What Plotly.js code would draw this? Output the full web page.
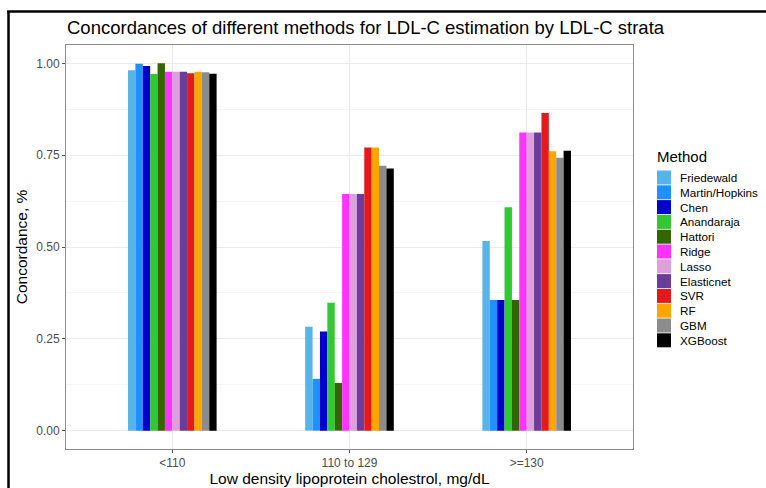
<!DOCTYPE html>
<html>
<head>
<meta charset="utf-8">
<script src="https://cdn.plot.ly/plotly-3.0.1.min.js"></script>
<style>html,body{margin:0;padding:0;background:#fff;}#chart{width:766px;height:488px;}</style>
</head>
<body>
<div id="chart"></div>
<script>
// ---- data ----
const strata = ['<110', '110 to 129', '>=130'];
const methods = ['Friedewald','Martin/Hopkins','Chen','Anandaraja','Hattori','Ridge','Lasso','Elasticnet','SVR','RF','GBM','XGBoost'];
const colors = ['#56B4E9','#1E90FF','#0000CD','#33C733','#336600','#FF33FF','#DDA0DD','#6A3D9A','#E31A1C','#FFA500','#8C8C8C','#000000'];
const friedewald   = [0.981, 0.283, 0.516];
const martin       = [0.999, 0.141, 0.356];
const chen         = [0.993, 0.270, 0.356];
const anandaraja   = [0.971, 0.348, 0.608];
const hattori      = [1.000, 0.130, 0.356];
const ridge        = [0.977, 0.644, 0.812];
const lasso        = [0.977, 0.644, 0.812];
const elasticnet   = [0.977, 0.644, 0.812];
const svr          = [0.973, 0.771, 0.865];
const rf           = [0.977, 0.771, 0.761];
const gbm          = [0.976, 0.721, 0.743];
const xgboost      = [0.972, 0.714, 0.762];
const series = [friedewald, martin, chen, anandaraja, hattori, ridge, lasso, elasticnet, svr, rf, gbm, xgboost];
const yTickVals = [0, 0.25, 0.5, 0.75, 1];
const yTickText = ['0.00', '0.25', '0.50', '0.75', '1.00'];

// ---- layout geometry ----
const W = 766, H = 488;
const M = {l: 66, r: 133, t: 45, b: 39};
const PW = W - M.l - M.r, PH = H - M.t - M.b;
const px = x => (x - M.l) / PW;
const py = y => (H - M.b - y) / PH;
const FONT = 'Liberation Sans, Arial, sans-serif';

const traces = methods.map((m, i) => ({
  type: 'bar', name: m, x: strata, y: series[i],
  marker: {color: colors[i], line: {width: 0}},
  showlegend: false, hoverinfo: 'x+y+name'
}));

const shapes = [];
const annotations = [];
// custom legend
annotations.push({xref:'paper', yref:'paper', x: px(655), y: py(156), xanchor:'left', yanchor:'middle',
  text:'Method', showarrow:false, font:{family:FONT, size:15, color:'#000'}});
methods.forEach((m, i) => {
  const cy = 177.5 + i * 14.8;
  shapes.push({type:'rect', xref:'paper', yref:'paper', x0: px(657), x1: px(671), y0: py(cy - 7), y1: py(cy + 7),
    fillcolor: colors[i], line:{width:0}, layer:'above'});
  annotations.push({xref:'paper', yref:'paper', x: px(678), y: py(cy), xanchor:'left', yanchor:'middle',
    text: m, showarrow:false, font:{family:FONT, size:11.7, color:'#000'}});
});
// outer frame (left and top edges of the image border)
shapes.push({type:'line', xref:'paper', yref:'paper', x0: px(8.5), x1: px(8.5), y0: py(12), y1: py(H + 5), line:{color:'#000', width:2.5}, layer:'above'});
shapes.push({type:'line', xref:'paper', yref:'paper', x0: px(7), x1: px(W + 5), y0: py(11.5), y1: py(11.5), line:{color:'#000', width:2.5}, layer:'above'});

const layout = {
  width: W, height: H,
  margin: M,
  paper_bgcolor: '#fff', plot_bgcolor: '#fff',
  font: {family: FONT, color: '#000'},
  title: {text: 'Concordances of different methods for LDL-C estimation by LDL-C strata',
    x: 67 / W, xanchor: 'left', xref: 'container', y: 1 - 28 / H, yanchor: 'middle', yref: 'container',
    font: {family: FONT, size: 18.5, color: '#000'}},
  barmode: 'group', bargap: 0.5, bargroupgap: 0,
  showlegend: false,
  xaxis: {type: 'category', range: [-0.6, 2.6], showgrid: true, gridcolor: '#EBEBEB', gridwidth: 1,
    showline: true, mirror: true, linecolor: '#8A8A8A', linewidth: 1,
    ticks: 'outside', ticklen: 3, tickcolor: '#555555', tickwidth: 1,
    tickfont: {family: FONT, size: 12, color: '#4D4D4D'},
    title: {text: 'Low density lipoprotein cholestrol, mg/dL', standoff: 3, font: {family: FONT, size: 15.5, color: '#000'}},
    zeroline: false, fixedrange: true},
  yaxis: {range: [-0.05, 1.05], tickmode: 'array', tickvals: yTickVals, ticktext: yTickText,
    showgrid: true, gridcolor: '#EBEBEB', gridwidth: 1,
    minor: {tickmode: 'linear', tick0: 0.125, dtick: 0.25, showgrid: true, gridcolor: '#F5F5F5', gridwidth: 1, ticks: ''},
    showline: true, mirror: true, linecolor: '#8A8A8A', linewidth: 1,
    ticks: 'outside', ticklen: 3, tickcolor: '#555555', tickwidth: 1,
    tickfont: {family: FONT, size: 12, color: '#4D4D4D'},
    title: {text: 'Concordance, %', standoff: 4, font: {family: FONT, size: 15.5, color: '#000'}},
    zeroline: false, fixedrange: true},
  shapes: shapes,
  annotations: annotations
};

Plotly.newPlot('chart', traces, layout, {displayModeBar: false, staticPlot: true});
</script>
</body>
</html>
